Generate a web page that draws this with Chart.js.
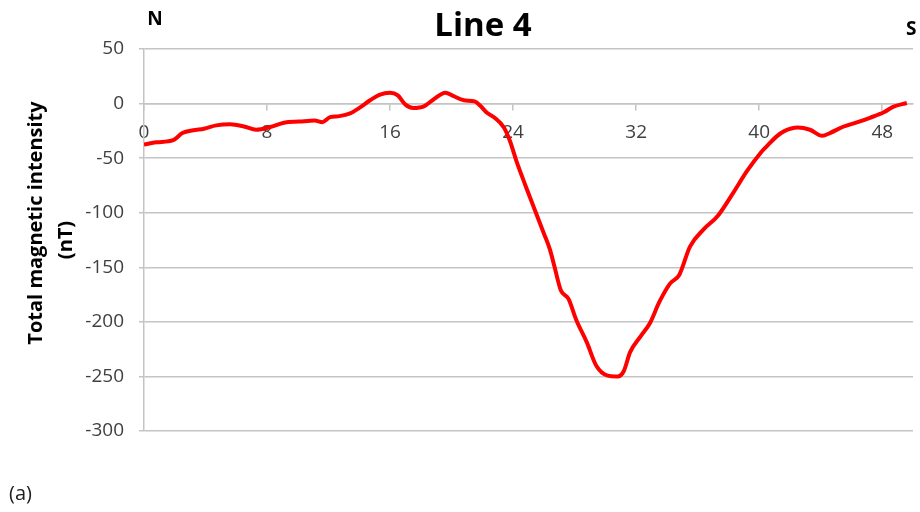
<!DOCTYPE html>
<html>
<head>
<meta charset="utf-8">
<script src="https://cdn.jsdelivr.net/npm/chart.js@4/dist/chart.umd.min.js"></script>
<style>
  html, body { margin: 0; padding: 0; background: #ffffff; }
  #wrap { width: 920px; height: 512px; position: relative; }
</style>
</head>
<body>
<div id="wrap"><canvas id="chart" width="920" height="512"></canvas></div>
<script>
// Distance along profile (m)
const distance = [0, 0.8, 1.9, 2.5, 3.2, 3.9, 4.7, 5.6, 6.5, 7.3, 8.2, 9.1, 10.1, 11.1, 11.6, 12.1, 12.7, 13.4, 14.0, 14.7,
  15.3, 16.0, 16.5, 17.0, 17.5, 18.2, 18.8, 19.6, 20.1, 20.8, 21.5, 21.9, 22.3, 22.8, 23.4, 23.8, 24.2, 24.8, 25.4, 26.0,
  26.4, 26.7, 27.1, 27.6, 28.1, 28.8, 29.4, 30.1, 30.8, 31.2, 31.6, 32.3, 32.9, 33.5, 34.2, 34.8, 35.5, 36.4, 37.3, 38.3,
  39.2, 40.1, 40.5, 41.1, 41.6, 42.5, 43.3, 44.1, 44.6, 45.5, 46.4, 47.2, 48.1, 48.7, 49.6];

// Total magnetic intensity (nT)
const intensity = [-37.5, -35.5, -33.5, -27, -24.5, -23, -20, -19, -21, -24, -21.5, -17.5, -16.5, -15.5, -17, -12.5, -11.5, -9, -4, 3,
  8, 10, 7.5, -1, -4, -2.5, 3.5, 10, 7, 3, 2, -2.5, -8.5, -13, -22, -34.5, -52, -75, -97, -119,
  -134, -150, -171, -179, -198, -219, -240, -249, -250, -245, -228, -213, -201, -182, -165, -157, -131, -115, -103, -82,
  -62, -45, -39, -30.5, -25.5, -22, -24, -29.5, -27, -21, -17, -13, -8, -3, 0.5];

// Axis tick labels
const xTickValues = [0, 8, 16, 24, 32, 40, 48];
const yTickValues = [-300, -250, -200, -150, -100, -50, 0, 50];

const points = distance.map((d, i) => ({ x: d, y: intensity[i] }));

const GRID = '#c4c4c4';
const TICK_TEXT = '#404040';
const FONT = '"Open Sans", "DejaVu Sans", sans-serif';

// Titles and side annotations
const annotations = {
  id: 'annotations',
  afterDraw(chart) {
    const ctx = chart.ctx;
    ctx.save();
    ctx.fillStyle = '#000000';
    ctx.textBaseline = 'middle';

    ctx.font = 'bold 33px ' + FONT;
    ctx.textAlign = 'center';
    ctx.fillText('Line 4', 483, 27);

    ctx.font = 'bold 19px ' + FONT;
    ctx.fillText('N', 155, 20);
    ctx.textAlign = 'left';
    ctx.fillText('S', 906, 30);

    ctx.font = '20px ' + FONT;
    ctx.fillStyle = '#202020';
    ctx.fillText('(a)', 9, 494);

    // Y axis title (rotated)
    ctx.fillStyle = '#000000';
    ctx.font = 'bold 20px ' + FONT;
    ctx.textAlign = 'center';
    ctx.save();
    ctx.translate(36, 223);
    ctx.rotate(-Math.PI / 2);
    ctx.fillText('Total magnetic intensity', 0, 0);
    ctx.restore();
    ctx.save();
    ctx.translate(66, 240);
    ctx.rotate(-Math.PI / 2);
    ctx.fillText('(nT)', 0, 0);
    ctx.restore();

    ctx.restore();
  }
};

new Chart(document.getElementById('chart'), {
  type: 'line',
  data: {
    datasets: [{
      data: points,
      borderColor: '#ff0000',
      borderWidth: 4,
      pointRadius: 0,
      fill: false,
      cubicInterpolationMode: 'monotone'
    }]
  },
  options: {
    responsive: false,
    animation: false,
    layout: { padding: { top: 49, bottom: 81, left: 0, right: 7 } },
    plugins: {
      legend: { display: false },
      tooltip: { enabled: false },
      title: { display: false }
    },
    scales: {
      x: {
        type: 'linear',
        position: { y: 0 },
        min: 0,
        max: 50,
        afterBuildTicks(scale) {
          scale.ticks = xTickValues.map(v => ({ value: v }));
        },
        grid: {
          drawOnChartArea: false,
          drawTicks: true,
          tickLength: 6,
          color: GRID,
          lineWidth: 1.5
        },
        border: { display: true, color: GRID, width: 1.5 },
        ticks: {
          color: TICK_TEXT,
          font: { family: FONT, size: 19 },
          padding: 12,
          maxRotation: 0,
          autoSkip: false
        }
      },
      y: {
        type: 'linear',
        min: -300,
        max: 50,
        afterFit(scale) { scale.width = 144; },
        afterBuildTicks(scale) {
          scale.ticks = yTickValues.map(v => ({ value: v }));
        },
        grid: {
          color: GRID,
          lineWidth: 1.5,
          drawTicks: true,
          tickLength: 5
        },
        border: { display: true, color: GRID, width: 1.5 },
        ticks: {
          color: TICK_TEXT,
          font: { family: FONT, size: 19 },
          padding: 15
        }
      }
    }
  },
  plugins: [annotations]
});
</script>
</body>
</html>
